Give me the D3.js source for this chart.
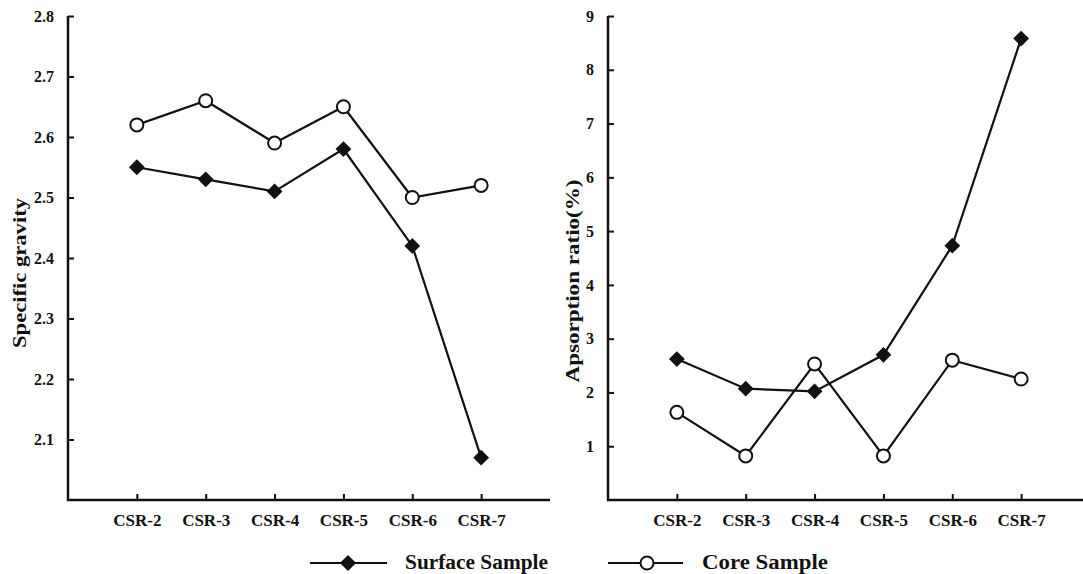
<!DOCTYPE html>
<html>
<head>
<meta charset="utf-8">
<script src="https://cdn.jsdelivr.net/npm/d3@7"></script>
<style>
  html, body { margin: 0; padding: 0; background: #fff; }
  svg { display: block; }
  text { font-family: "Liberation Serif", "Times New Roman", serif; font-weight: bold; fill: #111; }
</style>
</head>
<body>
<svg id="chart" width="1083" height="574"></svg>
<script>
// ---- data ----
const categories = ["CSR-2", "CSR-3", "CSR-4", "CSR-5", "CSR-6", "CSR-7"];
const gravitySurface = [2.55, 2.53, 2.51, 2.58, 2.42, 2.07];
const gravityCore    = [2.62, 2.66, 2.59, 2.65, 2.50, 2.52];
const absorptionSurface = [2.62, 2.07, 2.02, 2.70, 4.73, 8.58];
const absorptionCore    = [1.63, 0.82, 2.53, 0.82, 2.60, 2.25];
const gravityTicks = [2.1, 2.2, 2.3, 2.4, 2.5, 2.6, 2.7, 2.8];
const absorptionTicks = [1, 2, 3, 4, 5, 6, 7, 8, 9];
const seriesNames = ["Surface Sample", "Core Sample"];
const yTitles = ["Specific gravity", "Apsorption ratio(%)"];

const svg = d3.select("#chart");
const ink = "#111";

function panel(opts) {
  const g = svg.append("g");
  const x = d3.scalePoint().domain(categories).range([opts.x0, opts.x1]).padding(1);
  const y = d3.scaleLinear().domain(opts.yDomain).range([500, 16]);

  // y axis
  const yAxis = d3.axisLeft(y).tickValues(opts.ticks).tickSize(-6).tickPadding(14)
    .tickFormat(opts.fmt);
  const ya = g.append("g").attr("transform", `translate(${opts.x0},0)`).call(yAxis);
  ya.select(".domain").remove();
  ya.selectAll(".tick line").attr("stroke", ink).attr("stroke-width", 2);
  ya.selectAll(".tick text").attr("font-size", 16).style("font-family", "Liberation Serif").style("font-weight", "bold").attr("fill", ink);

  // x axis
  const xAxis = d3.axisBottom(x).tickSize(-6).tickPadding(14);
  const xa = g.append("g").attr("transform", "translate(0,500)").call(xAxis);
  xa.select(".domain").remove();
  xa.selectAll(".tick line").attr("stroke", ink).attr("stroke-width", 2);
  xa.selectAll(".tick text").attr("font-size", 17).style("font-family", "Liberation Serif").style("font-weight", "bold").attr("fill", ink);

  // axis frame lines
  g.append("path")
    .attr("d", `M${opts.x0},16 V500 H${opts.xEnd}`)
    .attr("fill", "none").attr("stroke", ink).attr("stroke-width", 2.5);

  // y title
  g.append("text")
    .attr("transform", `translate(${opts.titleX},${opts.titleY}) rotate(-90)`)
    .attr("text-anchor", "middle").attr("font-size", 19)
    .attr("textLength", opts.titleLen).attr("lengthAdjust", "spacingAndGlyphs")
    .text(opts.title);

  const line = d3.line().x((d, i) => x(categories[i])).y(d => y(d));

  g.append("path").datum(opts.surface).attr("d", line)
    .attr("fill", "none").attr("stroke", ink).attr("stroke-width", 2.2);
  g.append("path").datum(opts.core).attr("d", line)
    .attr("fill", "none").attr("stroke", ink).attr("stroke-width", 2.2);

  const diamond = d3.symbol().type(d3.symbolSquare).size(125);
  g.selectAll(".dm").data(opts.surface).join("path")
    .attr("d", diamond)
    .attr("transform", (d, i) => `translate(${x(categories[i])},${y(d)}) rotate(45)`)
    .attr("fill", ink);
  g.selectAll(".cc").data(opts.core).join("circle")
    .attr("cx", (d, i) => x(categories[i])).attr("cy", d => y(d)).attr("r", 6.5)
    .attr("fill", "#fff").attr("stroke", ink).attr("stroke-width", 2);
}

panel({ x0: 68, x1: 550, xEnd: 550, yDomain: [2.0, 2.8], ticks: gravityTicks,
  fmt: d3.format(".1f"), surface: gravitySurface, core: gravityCore,
  title: yTitles[0], titleX: 26, titleY: 273, titleLen: 150 });
panel({ x0: 608, x1: 1090, xEnd: 1083, yDomain: [0, 9], ticks: absorptionTicks,
  fmt: d3.format("d"), surface: absorptionSurface, core: absorptionCore,
  title: yTitles[1], titleX: 579, titleY: 281, titleLen: 203 });

// legend
const lg = svg.append("g");
const legendY = 563;
lg.append("line").attr("x1", 310).attr("x2", 387).attr("y1", legendY).attr("y2", legendY)
  .attr("stroke", ink).attr("stroke-width", 2);
lg.append("path").attr("d", d3.symbol().type(d3.symbolSquare).size(130))
  .attr("transform", `translate(348,${legendY}) rotate(45)`).attr("fill", ink);
lg.append("text").attr("x", 405).attr("y", legendY + 6).attr("font-size", 20)
  .attr("textLength", 143).attr("lengthAdjust", "spacingAndGlyphs").text(seriesNames[0]);

lg.append("line").attr("x1", 608).attr("x2", 683).attr("y1", legendY).attr("y2", legendY)
  .attr("stroke", ink).attr("stroke-width", 2);
lg.append("circle").attr("cx", 647).attr("cy", legendY).attr("r", 6.5)
  .attr("fill", "#fff").attr("stroke", ink).attr("stroke-width", 2);
lg.append("text").attr("x", 702).attr("y", legendY + 6).attr("font-size", 20)
  .attr("textLength", 126).attr("lengthAdjust", "spacingAndGlyphs").text(seriesNames[1]);
</script>
</body>
</html>
